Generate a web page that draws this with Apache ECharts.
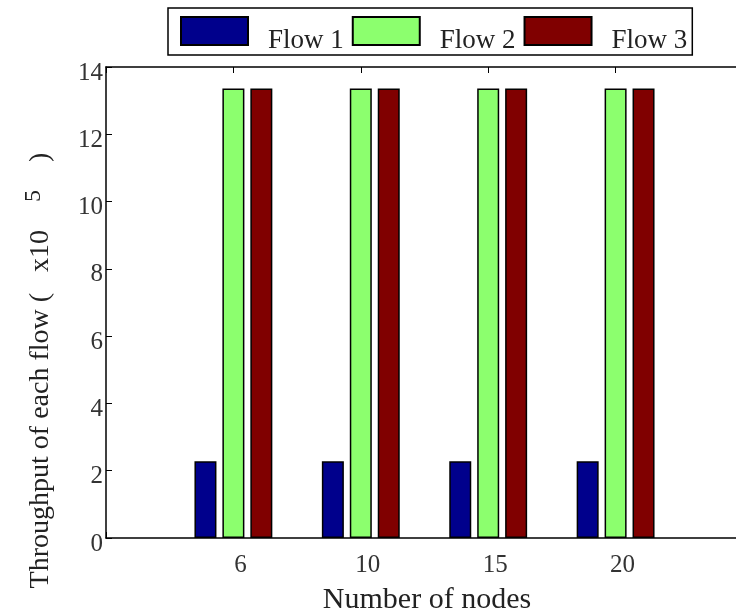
<!DOCTYPE html>
<html>
<head>
<meta charset="utf-8">
<script src="https://cdn.jsdelivr.net/npm/echarts@6/dist/echarts.min.js"></script>
<style>html,body{margin:0;padding:0;background:#fff}#c{width:736px;height:616px}</style>
</head>
<body>
<div id="c"></div>
<script>
var categories = ['', '6', '10', '15', '20', ''];
var seriesNames = ['Flow 1', 'Flow 2', 'Flow 3'];
var flow1 = [null, 2.28, 2.28, 2.28, 2.28, null];
var flow2 = [null, 13.36, 13.36, 13.36, 13.36, null];
var flow3 = [null, 13.36, 13.36, 13.36, 13.36, null];
var yTicks = [0, 2, 4, 6, 8, 10, 12, 14];
var colors = ['#00008c', '#8cff6e', '#800000'];

var font = 'Liberation Serif';
var chart = echarts.init(document.getElementById('c'));
function bar(name, data, color) {
  return {
    name: name, type: 'bar', data: data,
    barWidth: 22, barGap: '27%',
    xAxisIndex: 0, yAxisIndex: 0,
    itemStyle: { color: color, borderColor: '#000', borderWidth: 1.5 }
  };
}
chart.setOption({
  animation: false,
  backgroundColor: '#fff',
  textStyle: { fontFamily: font },
  grid: { left: 106, top: 67, right: -7, bottom: 78, containLabel: false, outerBoundsMode: 'none' },
  legend: {
    left: 168, top: 8,
    orient: 'horizontal',
    data: seriesNames,
    icon: 'rect',
    itemWidth: 67, itemHeight: 28, itemGap: 8,
    borderColor: '#000', borderWidth: 1.5,
    padding: [0, 5, 1, 12],
    formatter: function (n) { return '{g| }\n{t|' + n + '}'; },
    textStyle: {
      fontFamily: font, fontSize: 27, color: '#222',
      rich: {
        g: { fontSize: 10, height: 19, lineHeight: 19 },
        t: { fontFamily: font, fontSize: 27, lineHeight: 27, color: '#222', padding: [0, 0, 0, 15] }
      }
    }
  },
  xAxis: [{
    type: 'category', data: categories, boundaryGap: false, position: 'bottom',
    axisLine: { lineStyle: { color: '#000', width: 1.5 } },
    axisTick: { inside: true, length: 6, interval: 0, lineStyle: { color: '#000' } },
    axisLabel: { interval: 0, margin: 15, fontFamily: font, fontSize: 25, color: '#333', padding: [0, 0, 0, 14] },
    name: 'Number of nodes', nameLocation: 'middle', nameGap: 52,
    nameTextStyle: { fontFamily: font, fontSize: 30, lineHeight: 20, color: '#222', padding: [0, 0, 0, 5] }
  }, {
    type: 'category', data: categories, boundaryGap: false, position: 'top',
    axisLine: { lineStyle: { color: '#000', width: 1.5 } },
    axisTick: { inside: true, length: 6, interval: 0, lineStyle: { color: '#000' } },
    axisLabel: { show: false }
  }],
  yAxis: [{
    type: 'value', min: 0, max: 14, interval: 2,
    axisLine: { show: true, lineStyle: { color: '#000', width: 1.5 } },
    axisTick: { show: true, inside: true, length: 6, lineStyle: { color: '#000' } },
    splitLine: { show: false },
    axisLabel: {
      margin: 3, fontFamily: font, fontSize: 25, color: '#333',
      verticalAlign: 'top', lineHeight: 12,
      formatter: function (v) { return yTicks.indexOf(v) >= 0 ? String(v) : ''; }
    },
    name: 'Throughput of each flow (   x10    {sup|5}    )', nameLocation: 'middle', nameGap: 46,
    nameTextStyle: {
      fontFamily: font, fontSize: 28, color: '#222', padding: [0, 136, 0, 0],
      rich: { sup: { fontFamily: font, fontSize: 24, color: '#222', verticalAlign: 'top', padding: [0, 0, 14, 0] } }
    }
  }],
  series: [
    bar(seriesNames[0], flow1, colors[0]),
    bar(seriesNames[1], flow2, colors[1]),
    bar(seriesNames[2], flow3, colors[2])
  ]
});
</script>
</body>
</html>
